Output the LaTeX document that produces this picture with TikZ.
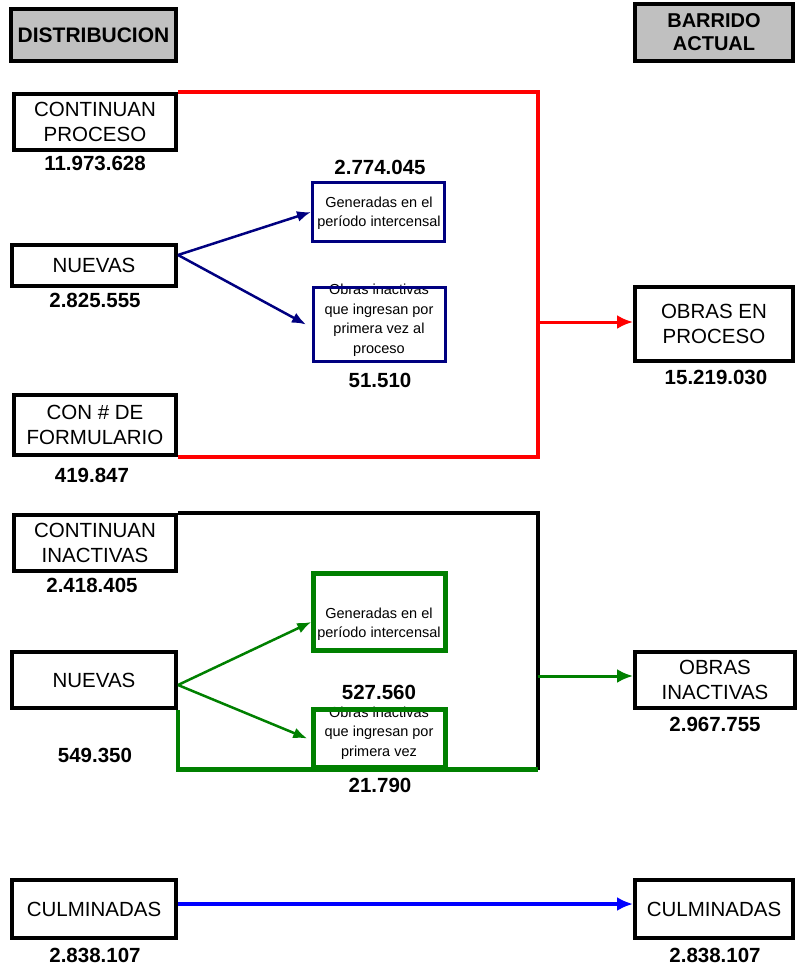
\documentclass[tikz,border=0pt]{standalone}
\usepackage{fontspec}
\setmainfont{Liberation Sans}
\usetikzlibrary{arrows.meta}
\definecolor{hdrgray}{RGB}{192,192,192}
\definecolor{navyline}{RGB}{0,0,128}
\definecolor{darkgreen}{RGB}{0,128,0}
\begin{document}
\begin{tikzpicture}[x=1pt, y=-1pt,
    box/.style={draw, line width=4pt, inner sep=0pt, align=center, font=\fontsize{20.5}{24.5}\selectfont},
    hdr/.style={box, fill=hdrgray, font=\fontsize{20}{23}\selectfont\bfseries},
    num/.style={font=\fontsize{20.5}{22}\selectfont\bfseries},
    subtxt/.style={align=center, font=\fontsize{14.5}{19.5}\selectfont},
    subbox/.style={draw=#1, minimum width=132pt, inner sep=0pt},
    tip/.style={-{Latex[length=16pt, width=14pt]}},
    smalltip/.style={-{Latex[length=14pt, width=11pt]}}
]
    \useasboundingbox (0,0) rectangle (801,966);

    % Headers
    \node[hdr, minimum width=165pt, minimum height=52pt, font=\fontsize{21}{24}\selectfont\bfseries] (dist) at (93.5,35) {DISTRIBUCION};
    \node[hdr, minimum width=158pt, minimum height=57pt] (barr) at (714,32.5) {BARRIDO\\ACTUAL};

    % Left column boxes
    \node[box, minimum width=162pt, minimum height=56pt] (cproc) at (95,122) {CONTINUAN\\PROCESO};
    \node[box, minimum width=164pt, minimum height=41pt] (nuev1) at (94,265.5) {NUEVAS};
    \node[box, minimum width=162pt, minimum height=60pt] (cform) at (95,425) {CON \# DE\\FORMULARIO};
    \node[box, minimum width=162pt, minimum height=56pt] (cinac) at (95,543) {CONTINUAN\\INACTIVAS};
    \node[box, minimum width=164pt, minimum height=56pt] (nuev2) at (94,680) {NUEVAS};
    \node[box, minimum width=164pt, minimum height=58pt] (culm1) at (94,909) {CULMINADAS};

    % Right column boxes
    \node[box, minimum width=158pt, minimum height=74pt] (obrp) at (714,324) {OBRAS EN\\PROCESO};
    \node[box, minimum width=160pt, minimum height=56pt] (obri) at (715,680) {OBRAS\\INACTIVAS};
    \node[box, minimum width=158pt, minimum height=58pt] (culm2) at (714,909) {CULMINADAS};

    % Middle boxes (text first, border drawn over it)
    \node[subtxt] (gen1t) at (379,213) {Generadas en el\\período intercensal};
    \node[subtxt] (ina1t) at (379,320) {Obras inactivas\\que ingresan por\\primera vez al\\proceso};
    \node[subtxt] (gen2t) at (379,624) {Generadas en el\\período intercensal};
    \node[subtxt] (ina2t) at (379,733) {Obras inactivas\\que ingresan por\\primera vez};
    \node[subbox=navyline, line width=3pt, minimum height=59pt] (gen1) at (378.5,212) {};
    \node[subbox=navyline, line width=3pt, minimum height=74pt] (ina1) at (379.5,324.5) {};
    \node[subbox=darkgreen, line width=4.5pt, minimum height=77pt] (gen2) at (379.5,612) {};
    \node[subbox=darkgreen, line width=4.5pt, minimum height=58pt] (ina2) at (379.5,738.5) {};

    % Values
    \foreach \x/\y/\v [count=\i] in {95/163.5/11.973.628, 380/167/2.774.045, 95/300/2.825.555,
        380/380/51.510, 716/377.5/15.219.030, 92/475/419.847, 92/585/2.418.405,
        379/692/527.560, 95/755/549.350, 380/785/21.790, 715/724/2.967.755,
        95/955/2.838.107, 715/955/2.838.107} {
        \node[num] (val\i) at (\x,\y) {\v};
    }

    % Joins
    \coordinate (rj) at (538,322);
    \coordinate (gj) at (538,676);
    \coordinate (gb) at (538,769.5);
    \coordinate (n1) at (178,255);
    \coordinate (n2) at (178,685);

    % Red group
    \draw[red, line width=4pt] (cproc.north east) -- ++(360,0) |- (cform.south east);
    \draw[red, line width=3pt, tip] (rj) -- (obrp.west |- rj);

    % Inactive group
    \draw[black, line width=4pt] (cinac.north east) -| (gb);
    \draw[darkgreen, line width=4.5pt] (nuev2.south east) |- (gb);
    \draw[darkgreen, line width=3pt, tip] (gj) -- (obri.west |- gj);

    % Split arrows
    \draw[navyline, line width=2.5pt, smalltip] (n1) -- (gen1.west);
    \draw[navyline, line width=2.5pt, smalltip] (n1) -- ([xshift=-6pt]ina1.west);
    \draw[darkgreen, line width=2.5pt, smalltip] (n2) -- ([yshift=-10pt]gen2.west);
    \draw[darkgreen, line width=2.5pt, smalltip] (n2) -- ([xshift=-4pt]ina2.west);

    % Culminadas
    \draw[blue, line width=4pt, tip] (culm1.east |- 0,904) -- (culm2.west |- 0,904);
\end{tikzpicture}
\end{document}
